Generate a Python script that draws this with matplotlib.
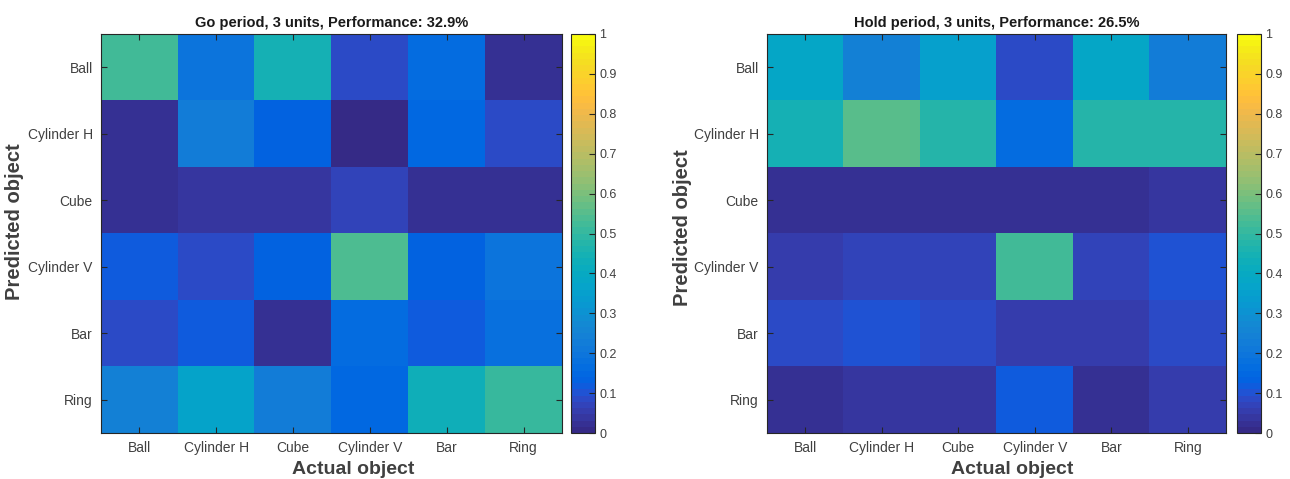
import matplotlib
matplotlib.use('Agg')
import matplotlib.pyplot as plt
import numpy as np
from matplotlib.colors import ListedColormap

plt.rcParams['font.family'] = ['Liberation Sans', 'DejaVu Sans']

# MATLAB parula (64 levels)
parula_data = [
    [0.2081, 0.1663, 0.5292], [0.2116, 0.1898, 0.5777], [0.2123, 0.2138, 0.6270],
    [0.2081, 0.2386, 0.6771], [0.1959, 0.2645, 0.7279], [0.1707, 0.2919, 0.7792],
    [0.1253, 0.3242, 0.8303], [0.0591, 0.3598, 0.8683], [0.0117, 0.3875, 0.8820],
    [0.0060, 0.4086, 0.8828], [0.0165, 0.4266, 0.8786], [0.0329, 0.4430, 0.8720],
    [0.0498, 0.4586, 0.8641], [0.0629, 0.4737, 0.8554], [0.0723, 0.4887, 0.8467],
    [0.0779, 0.5040, 0.8384], [0.0793, 0.5200, 0.8312], [0.0749, 0.5375, 0.8263],
    [0.0641, 0.5570, 0.8240], [0.0488, 0.5772, 0.8228], [0.0343, 0.5966, 0.8199],
    [0.0265, 0.6137, 0.8135], [0.0239, 0.6287, 0.8038], [0.0231, 0.6418, 0.7913],
    [0.0228, 0.6535, 0.7768], [0.0267, 0.6642, 0.7607], [0.0384, 0.6743, 0.7436],
    [0.0590, 0.6838, 0.7254], [0.0843, 0.6928, 0.7062], [0.1133, 0.7015, 0.6859],
    [0.1453, 0.7098, 0.6646], [0.1801, 0.7177, 0.6424], [0.2178, 0.7250, 0.6193],
    [0.2586, 0.7317, 0.5954], [0.3022, 0.7376, 0.5712], [0.3482, 0.7424, 0.5473],
    [0.3953, 0.7459, 0.5244], [0.4420, 0.7481, 0.5033], [0.4871, 0.7491, 0.4840],
    [0.5300, 0.7491, 0.4661], [0.5709, 0.7485, 0.4494], [0.6099, 0.7473, 0.4337],
    [0.6473, 0.7456, 0.4188], [0.6834, 0.7435, 0.4044], [0.7184, 0.7411, 0.3905],
    [0.7525, 0.7384, 0.3768], [0.7858, 0.7356, 0.3633], [0.8185, 0.7327, 0.3498],
    [0.8507, 0.7299, 0.3360], [0.8824, 0.7274, 0.3217], [0.9139, 0.7258, 0.3063],
    [0.9450, 0.7261, 0.2886], [0.9739, 0.7314, 0.2666], [0.9938, 0.7455, 0.2403],
    [0.9990, 0.7653, 0.2164], [0.9955, 0.7861, 0.1967], [0.9880, 0.8066, 0.1794],
    [0.9789, 0.8271, 0.1633], [0.9697, 0.8481, 0.1475], [0.9626, 0.8705, 0.1309],
    [0.9589, 0.8949, 0.1132], [0.9598, 0.9218, 0.0948], [0.9661, 0.9514, 0.0755],
    [0.9763, 0.9831, 0.0538]]
parula = ListedColormap(parula_data)

objects = ['Ball', 'Cylinder H', 'Cube', 'Cylinder V', 'Bar', 'Ring']

# rows: predicted object, columns: actual object
go_matrix = np.array([
    [0.53, 0.20, 0.45, 0.08, 0.16, 0.03],
    [0.02, 0.22, 0.13, 0.01, 0.15, 0.08],
    [0.02, 0.04, 0.04, 0.07, 0.02, 0.02],
    [0.12, 0.08, 0.13, 0.54, 0.13, 0.19],
    [0.08, 0.12, 0.02, 0.16, 0.11, 0.18],
    [0.24, 0.36, 0.22, 0.15, 0.43, 0.50],
])
hold_matrix = np.array([
    [0.38, 0.24, 0.35, 0.09, 0.38, 0.22],
    [0.44, 0.55, 0.47, 0.17, 0.48, 0.47],
    [0.02, 0.02, 0.02, 0.02, 0.02, 0.04],
    [0.05, 0.07, 0.07, 0.52, 0.07, 0.10],
    [0.09, 0.10, 0.08, 0.06, 0.06, 0.09],
    [0.02, 0.04, 0.04, 0.12, 0.02, 0.06],
])
titles = ['Go period, 3 units, Performance: 32.9%',
          'Hold period, 3 units, Performance: 26.5%']

W, H = 1290, 479
fig = plt.figure(figsize=(W / 100, H / 100), dpi=100)

panels = [(101, 562, 571, 595), (767, 1226, 1237, 1261)]
xlabel_pos = [(0.548, -0.07), (0.535, -0.07)]
ylabel_pos = [(-0.167, 0.53), (-0.163, 0.515)]
bottom, top = 433, 34
gray = '#262626'
txt = '#404040'

for i, ((x0, x1, c0, c1), mat, title) in enumerate(zip(panels, [go_matrix, hold_matrix], titles)):
    ax = fig.add_axes([x0 / W, 1 - bottom / H, (x1 - x0) / W, (bottom - top) / H])
    im = ax.imshow(mat, cmap=parula, vmin=0, vmax=1, aspect='auto',
                   interpolation='nearest')
    ax.set_xticks(range(len(objects)))
    ax.set_yticks(range(len(objects)))
    ax.set_xticklabels(objects, fontsize=10, color=txt)
    ax.set_yticklabels(objects, fontsize=10, color=txt)
    ax.tick_params(direction='in', length=4, width=0.8, color=gray,
                   top=True, right=True, pad=6)
    for s in ax.spines.values():
        s.set_color(gray)
        s.set_linewidth(0.8)
    ax.set_title(title, fontsize=10.5, fontweight='bold', color='#1a1a1a', pad=5)
    ax.set_xlabel('Actual object', fontsize=14, fontweight='bold', color=txt)
    ax.set_ylabel('Predicted object', fontsize=14.5, fontweight='bold', color=txt)
    ax.xaxis.set_label_coords(*xlabel_pos[i])
    ax.yaxis.set_label_coords(*ylabel_pos[i])

    cax = fig.add_axes([c0 / W, 1 - bottom / H, (c1 - c0) / W, (bottom - top) / H])
    cb = fig.colorbar(im, cax=cax)
    cb.set_ticks(np.arange(0, 1.01, 0.1))
    cb.set_ticklabels(['0', '0.1', '0.2', '0.3', '0.4', '0.5', '0.6', '0.7', '0.8', '0.9', '1'])
    cax.tick_params(direction='in', length=4, width=0.8, color=gray,
                    labelsize=9, labelcolor=txt, pad=3)
    cb.outline.set_edgecolor(gray)
    cb.outline.set_linewidth(0.8)

fig.savefig('out.png', dpi=100)
